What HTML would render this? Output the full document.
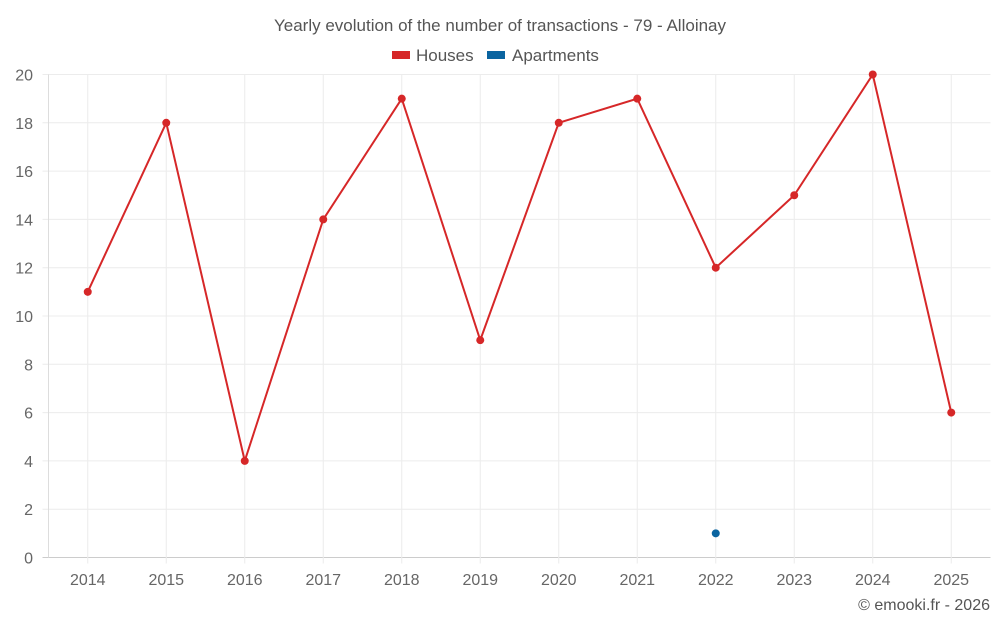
<!DOCTYPE html>
<html><head><meta charset="utf-8"><style>
html,body{margin:0;padding:0;background:#fff;}
svg{display:block;font-family:"Liberation Sans",sans-serif;}
</style></head><body>
<svg id="chart" width="1000" height="625">
<text x="500" y="31" text-anchor="middle" font-size="17" fill="#555">Yearly evolution of the number of transactions - 79 - Alloinay</text>
<g>
<g><rect x="392" y="51" width="18" height="8" fill="#d62728"/><text x="416" y="61" font-size="17" fill="#555">Houses</text></g>
<g><rect x="487" y="51" width="18" height="8" fill="#0a64a0"/><text x="512" y="61" font-size="17" fill="#555">Apartments</text></g>
</g>
<g id="grid"></g><g id="axes"></g><g id="series"></g>
<text x="990" y="610" text-anchor="end" font-size="16" fill="#555">© emooki.fr - 2026</text>
</svg>
<script>
const categories=["2014","2015","2016","2017","2018","2019","2020","2021","2022","2023","2024","2025"];
const houses=[11,18,4,14,19,9,18,19,12,15,20,6];
const apartments=[null,null,null,null,null,null,null,null,1,null,null,null];
const yTicks=[0,2,4,6,8,10,12,14,16,18,20];
const L=48.5,R=990.5,T=74.5,B=557.5,yMax=20;
const bw=(R-L)/categories.length;
const xs=i=>L+bw*(i+0.5);
const ys=v=>B-(v/yMax)*(B-T);
const NS="http://www.w3.org/2000/svg";
function mk(tag,attrs,parent){const e=document.createElementNS(NS,tag);for(const k in attrs)e.setAttribute(k,attrs[k]);parent.appendChild(e);return e;}
const grid=document.getElementById('grid'),axes=document.getElementById('axes'),ser=document.getElementById('series');
yTicks.forEach(v=>{
 const l=mk('line',{x1:L-6,x2:R,y1:ys(v),y2:ys(v),stroke:v===0?'#ccc':'#ececec','stroke-width':1},grid);
 
 
 const t=mk('text',{x:33,y:ys(v)+6,'text-anchor':'end','font-size':16,fill:'#666'},axes);
 t.textContent=v;
 
 
});
const ax=mk('line',{x1:L,x2:L,y1:T,y2:B,stroke:'#ddd','stroke-width':1},grid);


categories.forEach((c,i)=>{
 const l=mk('line',{x1:xs(i),x2:xs(i),y1:T,y2:B+6,stroke:'#ececec','stroke-width':1},grid);
 
 
 const t=mk('text',{x:xs(i),y:585,'text-anchor':'middle','font-size':16,fill:'#666'},axes);
 t.textContent=c;
 
 
});
const pts=houses.map((v,i)=>v==null?null:[xs(i),ys(v)]).filter(p=>p);
const pl=mk('polyline',{points:pts.map(p=>p.join(',')).join(' '),fill:'none',stroke:'#d62728','stroke-width':2},ser);


houses.forEach((v,i)=>{if(v==null)return;
 const c=mk('circle',{cx:xs(i),cy:ys(v),r:4,fill:'#d62728'},ser);
 
 
});
apartments.forEach((v,i)=>{if(v==null)return;
 const c=mk('circle',{cx:xs(i),cy:ys(v),r:4,fill:'#0a64a0'},ser);
 
 
});
</script>
</body></html>
